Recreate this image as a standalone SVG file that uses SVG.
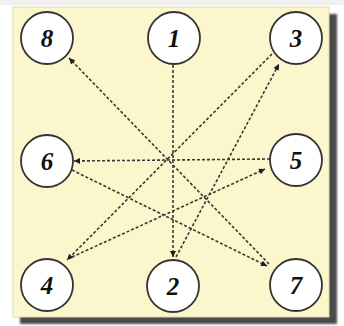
<svg xmlns="http://www.w3.org/2000/svg" width="344" height="326" viewBox="0 0 344 326">
  <defs>
    <filter id="soft" x="-5%" y="-5%" width="110%" height="110%">
      <feGaussianBlur stdDeviation="1.2"/>
    </filter>
    <marker id="arrow" viewBox="0 0 10 10" refX="10" refY="5" markerWidth="7" markerHeight="6" markerUnits="userSpaceOnUse" orient="auto">
      <path d="M0,0 L10,5 L0,10 Z" fill="#1e1e1e"/>
    </marker>
    <style>
      .node circle { fill: #ffffff; stroke: #333333; stroke-width: 1.8; }
      .node text { font-family: "Liberation Serif", "DejaVu Serif", serif; font-style: italic; font-weight: bold; font-size: 25px; fill: #111; text-anchor: middle; }
      .edge { fill: none; stroke: #383838; stroke-width: 1.6; stroke-dasharray: 3 2; marker-end: url(#arrow); }
    </style>
  </defs>

  <!-- page and panel with drop shadow -->
  <rect x="0" y="0" width="344" height="326" fill="#ffffff"/>
  <rect x="0" y="0" width="344" height="5" fill="#f0f0f0"/>
  <rect x="20" y="14" width="317" height="310" fill="#4a4a4a" filter="url(#soft)"/>
  <rect x="13" y="7" width="316" height="310" fill="#fcf6cc" stroke="#e0dab0" stroke-width="1"/>

  <!-- connectors -->
  <g id="edges">
    <line class="edge" x1="173" y1="65" x2="173" y2="257"/>
    <line class="edge" x1="176" y1="257" x2="279" y2="64"/>
    <line class="edge" x1="272" y1="54" x2="67" y2="260"/>
    <line class="edge" x1="72" y1="257" x2="265" y2="169"/>
    <line class="edge" x1="270" y1="159" x2="74" y2="161"/>
    <line class="edge" x1="72" y1="170" x2="267" y2="266"/>
    <line class="edge" x1="269" y1="264" x2="69" y2="58"/>
  </g>

  <!-- nodes -->
  <g id="n8" class="node"><circle cx="47" cy="38" r="26"/><text x="47" y="47">8</text></g>
  <g id="n1" class="node"><circle cx="174" cy="38" r="26"/><text x="174" y="47">1</text></g>
  <g id="n3" class="node"><circle cx="296" cy="38" r="26"/><text x="296" y="47">3</text></g>
  <g id="n6" class="node"><circle cx="47" cy="161" r="26"/><text x="47" y="170">6</text></g>
  <g id="n5" class="node"><circle cx="296" cy="160" r="26"/><text x="296" y="169">5</text></g>
  <g id="n4" class="node"><circle cx="47" cy="285" r="26"/><text x="47" y="294">4</text></g>
  <g id="n2" class="node"><circle cx="173" cy="286" r="26"/><text x="173" y="295">2</text></g>
  <g id="n7" class="node"><circle cx="296" cy="285" r="26"/><text x="296" y="294">7</text></g>
</svg>
